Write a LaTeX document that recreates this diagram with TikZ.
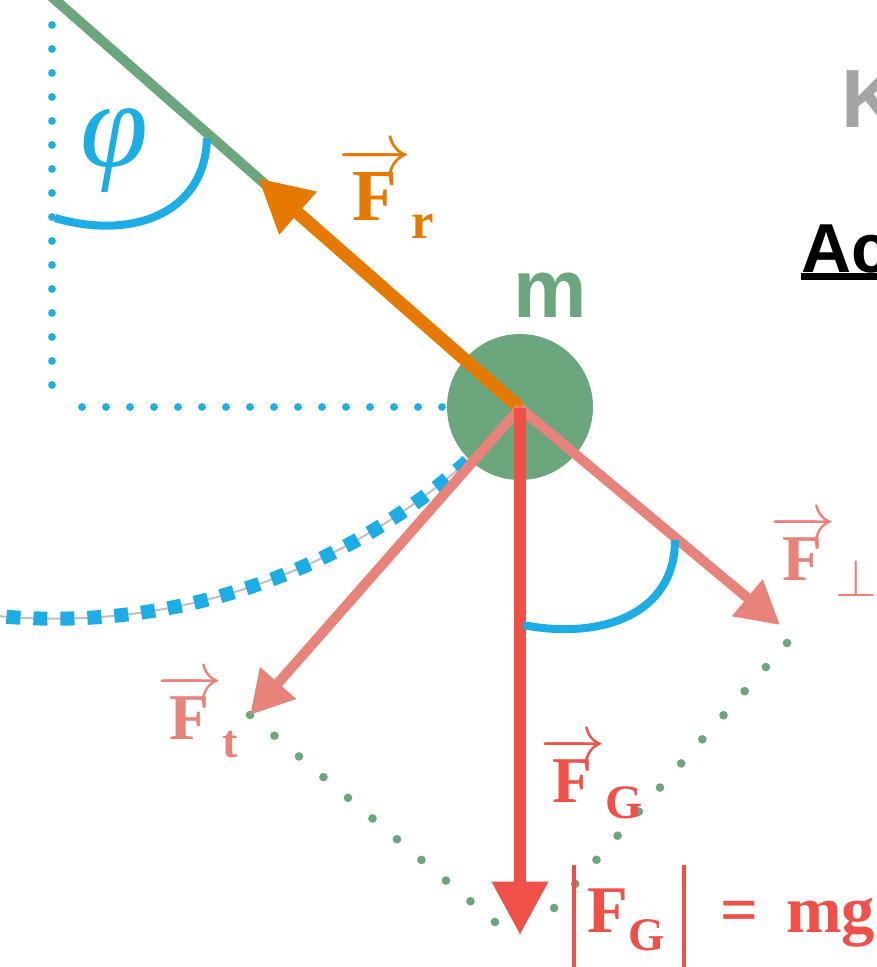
\RequirePackage{fix-cm}
\documentclass[tikz,border=0pt]{standalone}
\usepackage{fontspec}
\newfontfamily\tnr{Liberation Serif}
\newfontfamily\ars{Liberation Sans}
\usetikzlibrary{arrows.meta,calc}
\definecolor{mgreen}{HTML}{6BA67C}
\definecolor{mblue}{HTML}{1CADE4}
\definecolor{morange}{HTML}{E67A00}
\definecolor{mpink}{HTML}{E8837B}
\definecolor{mred}{HTML}{EF5048}
\definecolor{mgrayK}{HTML}{A5A5A5}
\definecolor{mgrayarc}{HTML}{BFBFBF}
\tikzset{
  lab/.style={inner sep=0pt, outer sep=0pt, anchor=base west, font=\tnr\bfseries},
  bluedots/.style={draw=mblue, line width=5.8pt, line cap=round, dash pattern=on 0pt off 18pt},
  greendots/.style={draw=mgreen, line width=6.5pt, line cap=round, dash pattern=on 0pt off 24.05pt},
  anglearc/.style={draw=mblue, line width=6pt},
  orangearrow/.style={draw=morange, line width=9.75pt, -{Triangle[length=40pt,width=40pt]}},
  pinkarrow/.style={draw=mpink, line width=7.5pt, -{Triangle[length=32pt,width=34pt]}},
  redarrow/.style={draw=mred, line width=9pt, -{Triangle[length=40pt,width=40pt]}},
}
\begin{document}
\begin{tikzpicture}[x=0.75pt,y=0.75pt]
\useasboundingbox (0,0) rectangle (877,-967);
% coordinates
\coordinate (pivot) at (55,0);
\coordinate (rodtop) at (44,10);
\coordinate (O) at (520,-408);
\coordinate (tipR) at (258,-178);
\coordinate (tipT) at (250,-715);
\coordinate (tipP) at (780,-625);
\coordinate (tipG) at (520,-935);
\coordinate (vd1) at (52,-25);
\coordinate (vd2) at (52,-385);
\coordinate (hd1) at (82,-407);
\coordinate (hd2) at (442,-407);
\coordinate (gl1) at (250,-715);
\coordinate (gl2) at (495,-922);
\coordinate (gr1) at (787,-643);
\coordinate (gr2) at (533,-932);
% blue dotted reference lines
\draw[bluedots] (vd1) -- (vd2);
\draw[bluedots] (hd1) -- (hd2);
% pendulum path arc
\draw[draw=mgrayarc, line width=1.5pt] (pivot) ++(-97:464pt) arc[start angle=-97, end angle=-44, radius=464pt];
\draw[draw=mblue, line width=10.5pt, dash pattern=on 10.5pt off 9.75pt] (pivot) ++(-97:464pt) arc[start angle=-97, end angle=-44, radius=464pt];
% rod
\draw[draw=mgreen, line width=7.5pt] (O) -- (rodtop);
% phi arc
\draw[anglearc] (55,-218) .. controls (130,-240) and (205,-215) .. (207,-138);
% mass
\node[circle, fill=mgreen, minimum size=109.5pt, inner sep=0pt] (mass) at (520,-407) {};
% orange arrow
\draw[orangearrow] (O) -- (tipR);
% green dotted parallelogram
\draw[greendots] (gl1) -- (gl2);
\draw[greendots] (gr1) -- (gr2);
% pink arrows
\draw[pinkarrow] (O) -- (tipT);
\draw[pinkarrow] (O) -- (tipP);
% red arrow
\draw[redarrow] (O) -- (tipG);
% lower angle arc
\draw[anglearc] (523,-625) .. controls (600,-640) and (675,-615) .. (675,-540);
% labels
\node[inner sep=0pt, outer sep=0pt, anchor=base west, font=\tnr\itshape, text=mblue] (phi) at (80,-166) {\fontsize{92}{92}\selectfont φ};
\node[lab, text=morange] (Fr) at (338,-220) {\fontsize{55}{55}\selectfont$\overrightarrow{\hbox to 48.75pt{\hss F\hss}}$\kern0pt\raisebox{-13.5pt}{\fontsize{38}{38}\selectfont r}};
\node[lab, text=mpink] (Fp) at (770,-580) {\fontsize{49}{49}\selectfont$\overrightarrow{\hbox to 43.5pt{\hss F\hss}}$\kern0pt\raisebox{-12pt}{\fontsize{40}{40}\selectfont$\perp$}};
\node[lab, text=mpink] (Ft) at (157,-739) {\fontsize{49}{49}\selectfont$\overrightarrow{\hbox to 43.5pt{\hss F\hss}}$\kern0pt\raisebox{-13.5pt}{\fontsize{35}{35}\selectfont t}};
\node[lab, text=mred] (FG) at (540,-802) {\fontsize{49}{49}\selectfont$\overrightarrow{\hbox to 43.5pt{\hss F\hss}}$\kern0pt\raisebox{-12pt}{\fontsize{36}{36}\selectfont G}};
\node[lab, text=mred] (abs) at (571.5,-932) {\fontsize{50}{50}\selectfont\vrule width 3pt height 50pt depth 30pt\kern9pt F\raisebox{-13.5pt}{\fontsize{35}{35}\selectfont G}\kern12.75pt\vrule width 3pt height 50pt depth 30pt\kern26pt=\kern21pt mg};
\node[inner sep=0pt, outer sep=0pt, anchor=base west, font=\ars\bfseries, text=mgreen] (mlab) at (513,-317) {\fontsize{62}{62}\selectfont m};
\node[inner sep=0pt, outer sep=0pt, anchor=base west, font=\ars\bfseries, text=mgrayK] (Klab) at (841,-127) {\fontsize{62}{62}\selectfont K};
\node[inner sep=0pt, outer sep=0pt, anchor=base west, font=\ars\bfseries, text=black] (Aclab) at (801,-272) {\fontsize{52}{52}\selectfont\rlap{\rule[-6pt]{60pt}{5.25pt}}Ac};
\end{tikzpicture}
\end{document}
